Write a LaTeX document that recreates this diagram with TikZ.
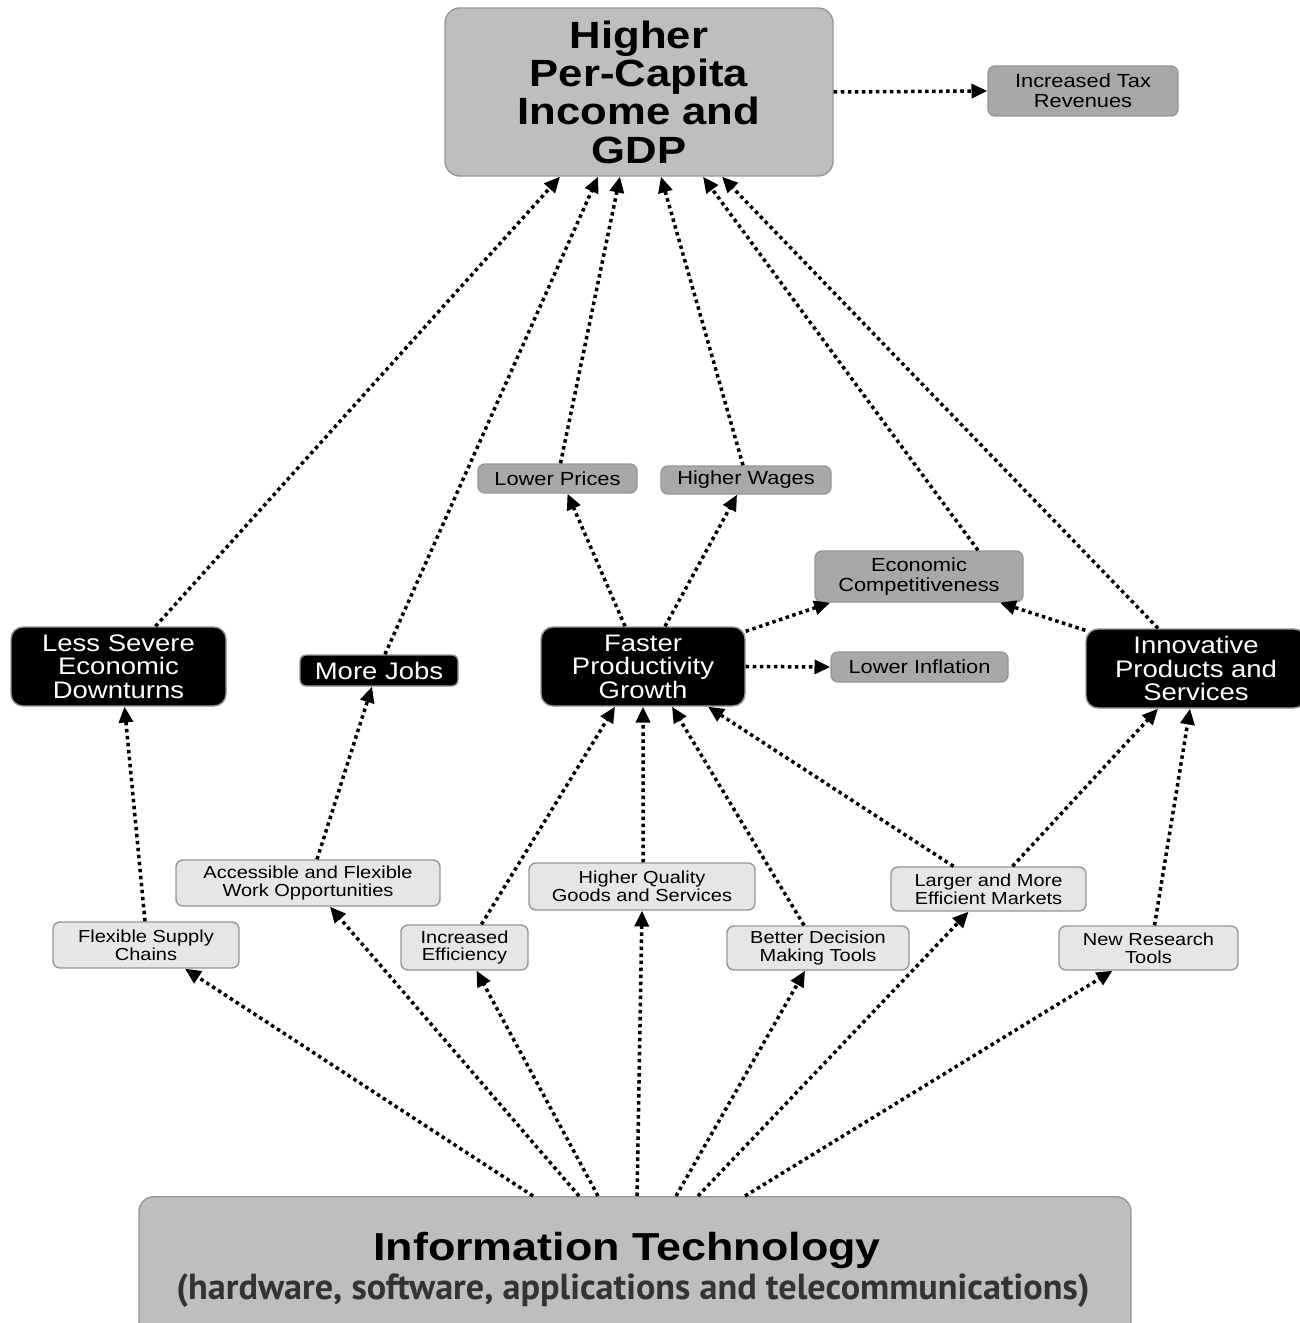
\documentclass[tikz,border=0pt]{standalone}
\usepackage{fontspec}
\setmainfont{Liberation Sans}[FakeStretch=1.15]
\newfontfamily\subfont{PT Sans}
\usetikzlibrary{arrows.meta}
\definecolor{topgray}{RGB}{190,190,190}
\definecolor{midgray}{RGB}{168,168,168}
\definecolor{lightgray}{RGB}{230,230,230}
\definecolor{edgegray}{RGB}{150,150,150}
\tikzset{
  bigbox/.style={draw=edgegray, fill=topgray, rounded corners=0.15cm, align=center, inner sep=0pt},
  blackbox/.style={draw=edgegray, fill=black, text=white, rounded corners=0.12cm, align=center, inner sep=0pt,
    font=\fontsize{6.8}{6.7}\selectfont},
  midbox/.style={draw=edgegray, fill=midgray, rounded corners=0.07cm, align=center, inner sep=0pt,
    font=\fontsize{5.4}{5.7}\selectfont},
  lightbox/.style={draw=edgegray, fill=lightgray, rounded corners=0.07cm, align=center, inner sep=0pt,
    font=\fontsize{4.95}{5.1}\selectfont},
  dotarrow/.style={->, >={Triangle[length=4.5pt,width=4pt]}, line width=1pt, dash pattern=on 1pt off 1pt}
}
\begin{document}
\begin{tikzpicture}
        \useasboundingbox (0,0) rectangle (13,-13.23);
        % top
        \node[bigbox, minimum width=3.88cm, minimum height=1.68cm, font=\fontsize{10.8}{10.9}\selectfont\bfseries] (gdp) at (6.39,-0.92) {Higher\\Per-Capita\\Income and\\GDP};
        \node[midbox, minimum width=1.90cm, minimum height=0.50cm, font=\fontsize{5.4}{5.6}\selectfont] (tax) at (10.83,-0.91) {Increased Tax\\Revenues};
        % second row
        \node[midbox, minimum width=1.59cm, minimum height=0.29cm] (prices) at (5.575,-4.785) {Lower Prices};
        \node[midbox, minimum width=1.70cm, minimum height=0.28cm] (wages) at (7.46,-4.80) {Higher Wages};
        \node[midbox, minimum width=2.08cm, minimum height=0.51cm] (compet) at (9.19,-5.765) {Economic\\Competitiveness};
        \node[midbox, minimum width=1.77cm, minimum height=0.30cm] (inflation) at (9.195,-6.67) {Lower Inflation};
        % black boxes
        \node[blackbox, minimum width=2.15cm, minimum height=0.79cm] (downturn) at (1.185,-6.665) {Less Severe\\Economic\\Downturns};
        \node[blackbox, minimum width=1.58cm, minimum height=0.31cm, rounded corners=0.06cm] (jobs) at (3.79,-6.705) {More Jobs};
        \node[blackbox, minimum width=2.04cm, minimum height=0.79cm] (faster) at (6.43,-6.665) {Faster\\Productivity\\Growth};
        \node[blackbox, minimum width=2.20cm, minimum height=0.79cm] (innov) at (11.96,-6.685) {Innovative\\Products and\\Services};
        % light boxes
        \node[lightbox, minimum width=2.64cm, minimum height=0.46cm] (access) at (3.08,-8.83) {Accessible and Flexible\\Work Opportunities};
        \node[lightbox, minimum width=1.86cm, minimum height=0.46cm] (supply) at (1.46,-9.45) {Flexible Supply\\Chains};
        \node[lightbox, minimum width=1.27cm, minimum height=0.45cm] (effic) at (4.645,-9.475) {Increased\\Efficiency};
        \node[lightbox, minimum width=2.26cm, minimum height=0.47cm] (quality) at (6.42,-8.865) {Higher Quality\\Goods and Services};
        \node[lightbox, minimum width=1.82cm, minimum height=0.44cm] (decision) at (8.18,-9.48) {Better Decision\\Making Tools};
        \node[lightbox, minimum width=1.95cm, minimum height=0.44cm] (markets) at (9.885,-8.89) {Larger and More\\Efficient Markets};
        \node[lightbox, minimum width=1.79cm, minimum height=0.44cm] (research) at (11.485,-9.48) {New Research\\Tools};
        % bottom
        \node[bigbox, minimum width=9.92cm, minimum height=1.40cm, anchor=north] (it) at (6.35,-11.96) {};
        \node[font=\fontsize{11.1}{12}\selectfont\bfseries] (ittitle) at (6.27,-12.5) {Information Technology};
        \node[font=\subfont\fontsize{10.3}{11}\selectfont\bfseries, text=black!80] (itsub) at (6.33,-12.91) {(hardware, software, applications and telecommunications)};
        % edges to gdp
        \draw[dotarrow] ([xshift=0.37cm]downturn.north) -- ([xshift=-0.79cm]gdp.south);
        \draw[dotarrow] ([xshift=0.06cm]jobs.north) -- ([xshift=-0.41cm]gdp.south);
        \draw[dotarrow] ([xshift=0.03cm]prices.north) -- ([xshift=-0.19cm]gdp.south);
        \draw[dotarrow] ([xshift=-0.03cm]wages.north) -- ([xshift=0.22cm]gdp.south);
        \draw[dotarrow] ([xshift=0.59cm]compet.north) -- ([xshift=0.64cm]gdp.south);
        \draw[dotarrow] ([xshift=-0.38cm]innov.north) -- ([xshift=0.83cm]gdp.south);
        \draw[dotarrow] (gdp.east) -- (tax.west);
        % edges from faster and innov
        \draw[dotarrow] ([xshift=-0.18cm]faster.north) -- ([xshift=0.1cm]prices.south);
        \draw[dotarrow] ([xshift=0.22cm]faster.north) -- ([xshift=-0.09cm]wages.south);
        \draw[dotarrow] ([yshift=-0.05cm]faster.north east) -- ([xshift=-0.89cm]compet.south);
        \draw[dotarrow] ([yshift=-0.02cm]innov.north west) -- ([xshift=0.81cm]compet.south);
        \draw[dotarrow] (faster.east) -- (inflation.west);
        % edges into black boxes
        \draw[dotarrow] ([xshift=-0.01cm]supply.north) -- ([xshift=0.06cm]downturn.south);
        \draw[dotarrow] ([xshift=0.09cm]access.north) -- ([xshift=-0.07cm]jobs.south);
        \draw[dotarrow] ([xshift=0.17cm]effic.north) -- ([xshift=-0.28cm]faster.south);
        \draw[dotarrow] ([xshift=0.01cm]quality.north) -- (faster.south);
        \draw[dotarrow] ([xshift=-0.14cm]decision.north) -- ([xshift=0.29cm]faster.south);
        \draw[dotarrow] ([xshift=-0.35cm]markets.north) -- ([xshift=0.65cm]faster.south);
        \draw[dotarrow] ([xshift=0.24cm]markets.north) -- ([xshift=-0.38cm]innov.south);
        \draw[dotarrow] ([xshift=0.06cm]research.north) -- ([xshift=-0.06cm]innov.south);
        % edges from it
        \draw[dotarrow] ([xshift=-1.02cm]it.north) -- ([xshift=0.39cm]supply.south);
        \draw[dotarrow] ([xshift=-0.56cm]it.north) -- ([xshift=0.22cm]access.south);
        \draw[dotarrow] ([xshift=-0.37cm]it.north) -- ([xshift=0.12cm]effic.south);
        \draw[dotarrow] ([xshift=0.02cm]it.north) -- (quality.south);
        \draw[dotarrow] ([xshift=0.41cm]it.north) -- ([xshift=-0.13cm]decision.south);
        \draw[dotarrow] ([xshift=0.63cm]it.north) -- ([xshift=-0.2cm]markets.south);
        \draw[dotarrow] ([xshift=1.1cm]it.north) -- ([xshift=-0.36cm]research.south);
\end{tikzpicture}
\end{document}
